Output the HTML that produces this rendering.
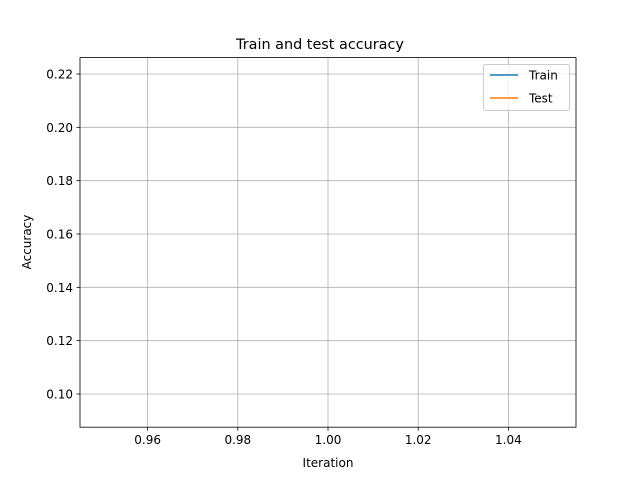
<!DOCTYPE html>
<html><head><meta charset="utf-8"><style>
body{margin:0;background:#fff;}
svg{display:block;font-family:"DejaVu Sans","Liberation Sans",sans-serif;}
</style></head><body>
<svg id="chart" width="640" height="480" viewBox="0 0 640 480">
<rect width="640" height="480" fill="#fff"/>
<g id="grid"></g>
<g id="series"></g>
<rect x="80" y="57.6" width="496" height="369.6" fill="none" stroke="#000" stroke-width="0.8"/>
<g id="xticks"></g>
<g id="yticks"></g>
<text x="320" y="49" text-anchor="middle" font-size="14.4">Train and test accuracy</text>
<text x="328" y="467" text-anchor="middle" font-size="12">Iteration</text>
<text x="31" y="242" text-anchor="middle" font-size="12" transform="rotate(-90 31 242)">Accuracy</text>
<g>
<rect x="483.5" y="64.5" width="86" height="46" rx="2" fill="#fff" fill-opacity="0.8" stroke="#ccc"/>
<g>
<line x1="490" y1="75" x2="518" y2="75" stroke="#1f77b4" stroke-width="1.5"/>
<text x="529" y="79.5" font-size="12">Train</text></g>
<g>
<line x1="490" y1="98" x2="518" y2="98" stroke="#ff7f0e" stroke-width="1.5"/>
<text x="529" y="102.5" font-size="12">Test</text></g>
</g>
</svg>
<script>
const iterations=[1];
const trainAcc=[0.094];
const testAcc=[0.219];
const xTicks=[0.96,0.98,1.00,1.02,1.04];
const yTicks=[0.10,0.12,0.14,0.16,0.18,0.20,0.22];
const L=80,R=576,T=57.6,B=427.2;
const xmin=0.945,xmax=1.055,ymin=0.08755,ymax=0.22615;
const sx=v=>L+(v-xmin)/(xmax-xmin)*(R-L);
const sy=v=>B-(v-ymin)/(ymax-ymin)*(B-T);
const NS="http://www.w3.org/2000/svg";
function mk(p,t,a){const e=document.createElementNS(NS,t);for(const k in a)e.setAttribute(k,a[k]);p.appendChild(e);return e;}
const g=document.getElementById('grid'),xt=document.getElementById('xticks'),yt=document.getElementById('yticks'),s=document.getElementById('series');
xTicks.forEach(v=>{const x=sx(v);
const gl=mk(g,'line',{x1:x,x2:x,y1:T,y2:B,stroke:'#b0b0b0','stroke-width':0.8});


mk(xt,'line',{x1:x,x2:x,y1:B,y2:B+3.5,stroke:'#000','stroke-width':0.8});
const t=mk(xt,'text',{x:x,y:B+17,'text-anchor':'middle','font-size':12});t.textContent=v.toFixed(2);

});
yTicks.forEach(v=>{const y=sy(v);
const gl=mk(g,'line',{x1:L,x2:R,y1:y,y2:y,stroke:'#b0b0b0','stroke-width':0.8});


mk(yt,'line',{x1:L-3.5,x2:L,y1:y,y2:y,stroke:'#000','stroke-width':0.8});
const t=mk(yt,'text',{x:L-7,y:y+4.5,'text-anchor':'end','font-size':12});t.textContent=v.toFixed(2);

});
function line(arr,color,name){const d=arr.map((v,i)=>(i?'L':'M')+sx(iterations[i])+' '+sy(v)).join(' ');
const p=mk(s,'path',{d:d,fill:'none',stroke:color,'stroke-width':1.5});

}
line(trainAcc,'#1f77b4','train-line');
line(testAcc,'#ff7f0e','test-line');
</script>
</body></html>
